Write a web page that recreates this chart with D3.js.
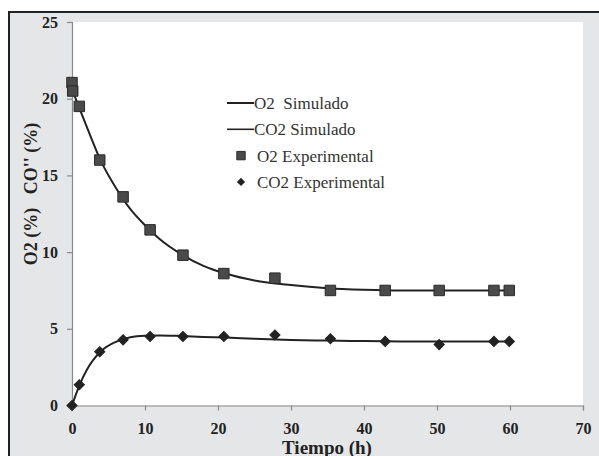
<!DOCTYPE html>
<html>
<head>
<meta charset="utf-8">
<script src="https://cdn.jsdelivr.net/npm/d3@7"></script>
</head>
<body style="margin:0; background:#fff">
<svg id="chart"></svg>
<script>
// experimental points
var o2ExpT   = [0, 0.1, 1, 3.8, 7, 10.7, 15.2, 20.8, 27.8, 35.4, 42.9, 50.3, 57.8, 59.9];
var o2ExpV   = [21.05, 20.5, 19.5, 16.0, 13.6, 11.45, 9.8, 8.6, 8.3, 7.5, 7.5, 7.5, 7.5, 7.5];
var co2ExpT  = [0, 1, 3.8, 7, 10.7, 15.2, 20.8, 27.8, 35.4, 42.9, 50.3, 57.8, 59.9];
var co2ExpV  = [0, 1.35, 3.5, 4.28, 4.5, 4.5, 4.5, 4.6, 4.35, 4.18, 3.97, 4.18, 4.18];

// simulated curves
var simT     = [0, 1, 2, 4, 6, 8, 10, 12, 15, 18, 21, 25, 30, 35, 40, 45, 50, 55, 60];
var o2SimV   = [20.6, 19.4, 18.2, 15.9, 14.2, 12.8, 11.75, 10.85, 9.85, 9.1, 8.6, 8.15, 7.85, 7.65, 7.55, 7.5, 7.5, 7.5, 7.5];
var co2SimV  = [0, 1.3, 2.3, 3.55, 4.15, 4.45, 4.55, 4.57, 4.53, 4.47, 4.43, 4.35, 4.27, 4.23, 4.2, 4.18, 4.17, 4.17, 4.17];

var xTicks = [0, 10, 20, 30, 40, 50, 60, 70];
var yTicks = [0, 5, 10, 15, 20, 25];
var legendItems = ["O2  Simulado", "CO2 Simulado", "O2 Experimental", "CO2 Experimental"];

var FONT = "Liberation Serif";
var W = 599, H = 456;
var margin = {top: 22, left: 72},
    width = 583 - margin.left,
    height = 405.5 - margin.top;

var svg = d3.select("#chart").attr("width", W).attr("height", H)
    .attr("font-family", FONT);

// frame and grey background
svg.append("rect").attr("x", 9).attr("y", 12).attr("width", W - 9).attr("height", H - 12)
    .attr("fill", "#e5e6e7");
svg.append("line").attr("x1", 9).attr("x2", W).attr("y1", 12).attr("y2", 12)
    .attr("stroke", "#222").attr("stroke-width", 2);
svg.append("line").attr("x1", 9).attr("x2", 9).attr("y1", 11).attr("y2", H)
    .attr("stroke", "#222").attr("stroke-width", 2);

var g = svg.append("g").attr("transform", "translate(" + margin.left + "," + margin.top + ")");

g.append("rect").attr("width", width).attr("height", height).attr("fill", "#fff");

var x = d3.scaleLinear().domain([0, 70]).range([0, width]);
var y = d3.scaleLinear().domain([0, 25]).range([height, 0]);

var xAxis = d3.axisBottom(x).tickValues(xTicks).tickSize(5).tickPadding(12);
var yAxis = d3.axisLeft(y).tickValues(yTicks).tickSize(5).tickPadding(9);

var gx = g.append("g").attr("transform", "translate(0," + height + ")").call(xAxis);
var gy = g.append("g").call(yAxis);
[gx, gy].forEach(function(a) {
    a.attr("font-family", FONT).attr("font-size", 16);
    a.select(".domain").attr("stroke", "#8a8a8a").attr("stroke-width", 1.2);
    a.selectAll(".tick line").attr("stroke", "#8a8a8a").attr("stroke-width", 1.2);
    a.selectAll(".tick text")
        .attr("font-family", FONT)
        .attr("font-weight", "bold")
        .attr("fill", "#222");
});

// axis titles
g.append("text")
    .attr("x", 255).attr("y", height + 48)
    .attr("text-anchor", "middle")
    .attr("font-family", FONT)
    .attr("font-weight", "bold").attr("font-size", 19).attr("fill", "#222")
    .text("Tiempo (h)");

svg.append("text")
    .attr("transform", "translate(37,194) rotate(-90)")
    .attr("text-anchor", "middle")
    .attr("font-family", FONT)
    .attr("font-weight", "bold").attr("font-size", 18).attr("fill", "#222")
    .style("white-space", "pre")
    .text("O2 (%)   CO'' (%)");

// simulated lines
var line = d3.line()
    .x(function(d) { return x(d[0]); })
    .y(function(d) { return y(d[1]); })
    .curve(d3.curveMonotoneX);

g.append("path").datum(d3.zip(simT, o2SimV))
    .attr("d", line).attr("fill", "none").attr("stroke", "#222").attr("stroke-width", 2);
g.append("path").datum(d3.zip(simT, co2SimV))
    .attr("d", line).attr("fill", "none").attr("stroke", "#222").attr("stroke-width", 2);

// markers
var square = d3.symbol().type(d3.symbolSquare).size(110);
var diamond = d3.symbol().type(d3.symbolSquare).size(52);

g.selectAll(".o2pt").data(d3.zip(o2ExpT, o2ExpV)).enter().append("path")
    .attr("class", "o2pt")
    .attr("d", square)
    .attr("transform", function(d) { return "translate(" + x(d[0]) + "," + y(d[1]) + ")"; })
    .attr("fill", "#4a4a4a").attr("stroke", "#2a2a2a").attr("stroke-width", 1);

g.selectAll(".co2pt").data(d3.zip(co2ExpT, co2ExpV)).enter().append("path")
    .attr("class", "co2pt")
    .attr("d", diamond)
    .attr("transform", function(d) { return "translate(" + x(d[0]) + "," + y(d[1]) + ") rotate(45)"; })
    .attr("fill", "#222").attr("stroke", "#222").attr("stroke-width", 1);

// legend
var legend = svg.selectAll(".legend").data(legendItems).enter().append("g")
    .attr("class", "legend")
    .attr("transform", function(d, i) { return "translate(227," + (103 + i * 26.3) + ")"; });

legend.each(function(d, i) {
    var l = d3.select(this);
    if (i < 2) {
        l.append("line").attr("x1", 0).attr("x2", 27).attr("y1", 0).attr("y2", 0)
            .attr("stroke", "#222").attr("stroke-width", i == 0 ? 2 : 1.6);
    } else if (i == 2) {
        l.append("path").attr("d", d3.symbol().type(d3.symbolSquare).size(70))
            .attr("transform", "translate(14,0)")
            .attr("fill", "#4a4a4a").attr("stroke", "#2a2a2a");
    } else {
        l.append("path").attr("d", d3.symbol().type(d3.symbolSquare).size(34))
            .attr("transform", "translate(14,0) rotate(45)")
            .attr("fill", "#222");
    }
    l.append("text").attr("x", i < 2 ? 27 : 30).attr("y", 0).attr("dy", "0.35em")
        .attr("font-family", FONT)
        .attr("font-size", 17).attr("fill", "#333")
        .style("white-space", "pre")
        .text(d);
});
</script>
</body>
</html>
